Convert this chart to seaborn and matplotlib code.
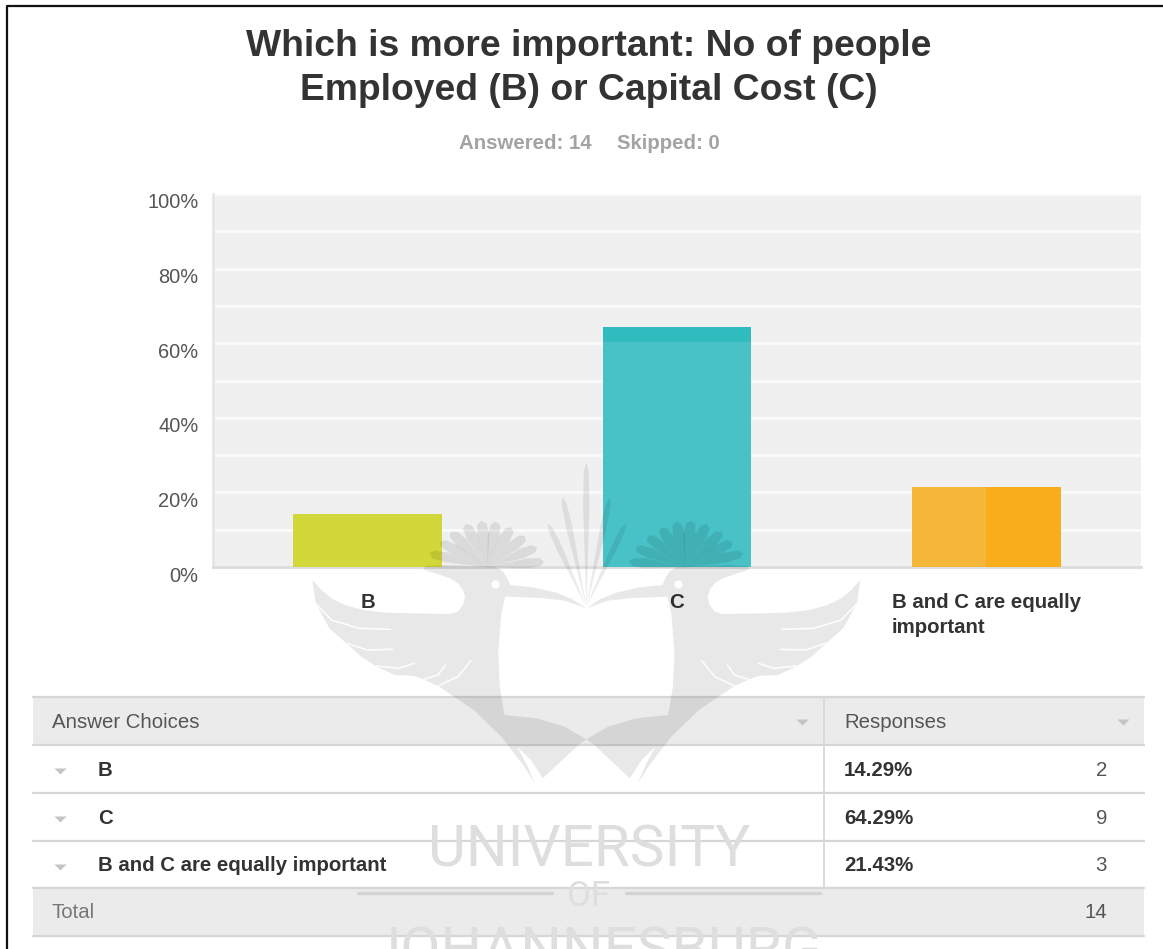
import numpy as np
import pandas as pd
import seaborn as sns
import matplotlib
matplotlib.use("Agg")
import matplotlib.pyplot as plt
from matplotlib.transforms import ScaledTranslation

title = "Which is more important: No of people\nEmployed (B) or Capital Cost (C)"
subtitle_answered = "Answered: 14"
subtitle_skipped = "Skipped: 0"
choices = ["B", "C", "B and C are equally\nimportant"]
table_choices = ["B", "C", "B and C are equally important"]
percents = [14.29, 64.29, 21.43]
counts = [2, 9, 3]
total = 14
bar_colors = ["#d3d83a", "#48c2c7", "#f6b63a"]
y_ticks = [0, 20, 40, 60, 80, 100]

W, H = 1163, 949
sns.set_theme(style="white")
plt.rcParams["font.family"] = ["Liberation Sans", "DejaVu Sans"]

fig = plt.figure(figsize=(W / 100, H / 100), dpi=100, facecolor="white")


def rect(l, t, r, b):
    return [l / W, 1 - b / H, (r - l) / W, (b - t) / H]


# ---- chart
ax = fig.add_axes(rect(213, 194, 1141, 567), facecolor="#f0f0f0")
df = pd.DataFrame({"choice": choices, "pct": percents})
sns.barplot(data=df, x="choice", y="pct", hue="choice", palette=bar_colors,
            width=0.48, saturation=1, legend=False, ax=ax, zorder=3, linewidth=0)
ax.set_xlim(-0.5, 2.5)
ax.set_ylim(0, 100)
ax.set_xlabel("")
ax.set_ylabel("")
ax.set_yticks(y_ticks)
ax.set_yticklabels([f"{v}%" for v in y_ticks], fontsize=14.4, color="#555555")
ax.set_yticks(range(0, 101, 10), minor=True)
ax.grid(True, which="both", axis="y", color="#fbfbfb", lw=2, zorder=1)
ax.set_axisbelow(True)
ax.tick_params(axis="y", which="both", length=0, pad=10.5)
ax.tick_params(axis="x", length=0, pad=19)
off = ScaledTranslation(0, -7 / 100, fig.dpi_scale_trans)
for lab in ax.get_yticklabels():
    lab.set_transform(lab.get_transform() + off)
for lab in ax.get_xticklabels():
    lab.set_fontsize(14.7)
    lab.set_fontweight("bold")
    lab.set_color("#333333")
    lab.set_multialignment("left")
    lab.set_linespacing(1.35)
for s in ["top", "right"]:
    ax.spines[s].set_visible(False)
ax.spines["left"].set_color("#e6e6e6")
ax.spines["left"].set_linewidth(2)
ax.spines["bottom"].set_color("#dcdcdc")
ax.spines["bottom"].set_linewidth(2)

# two-tone shading on bars
bars = list(ax.patches)
cb = bars[1]
ax.bar(cb.get_x() + cb.get_width() / 2, 4, bottom=cb.get_height() - 4,
       width=cb.get_width(), color="#30bbbf", zorder=4, linewidth=0)
ob = bars[2]
ax.bar(ob.get_x() + ob.get_width() * 0.75, ob.get_height(),
       width=ob.get_width() / 2, color="#f7ad1c", zorder=4, linewidth=0)

# ---- overlay in pixel coordinates
ov = fig.add_axes([0, 0, 1, 1], facecolor="none")
ov.set_xlim(0, W)
ov.set_ylim(H, 0)
ov.axis("off")

ov.plot([7, 7, W], [H, 6, 6], color="#111111", lw=1.6, zorder=1)

ov.text(589, 68.5, title, ha="center", va="center", fontsize=26.8,
        fontweight="bold", color="#333333", linespacing=1.3)
ov.text(525.5, 143.5, subtitle_answered, ha="center", va="center", fontsize=14.7,
        fontweight="bold", color="#a3a3a3")
ov.text(668, 143.5, subtitle_skipped, ha="center", va="center", fontsize=14.7,
        fontweight="bold", color="#a3a3a3")

# ---- table
L, R, SPLIT = 33, 1144, 824
rows_y = [697, 745, 793, 841, 888, 936]
for t, b in [(rows_y[0], rows_y[1]), (rows_y[4], rows_y[5])]:
    ov.fill_between([L, R], t, b, color="#ebebeb", lw=0, zorder=1)
for y in rows_y:
    ov.plot([L, R], [y, y], color="#d6d6d6", lw=1.6, zorder=2)
ov.plot([SPLIT, SPLIT], [rows_y[0], rows_y[4]], color="#d6d6d6", lw=1.2, zorder=2)

TXT = "#555555"
TRI = [(-1, 0.5), (1, 0.5), (0, -0.5), (-1, 0.5)]
ov.text(52, 722, "Answer Choices", va="center", fontsize=14.7, color=TXT)
ov.text(844, 722, "Responses", va="center", fontsize=14.7, color=TXT)
ov.scatter([802, 1123], [722, 722], marker=TRI, s=75, color="#c4c4c4", lw=0, zorder=3)
for i, name in enumerate(table_choices):
    yc = (rows_y[i + 1] + rows_y[i + 2]) / 2 + 1
    ov.scatter([60], [yc + 1], marker=TRI, s=75, color="#c4c4c4", lw=0, zorder=3)
    ov.text(98, yc, name, va="center", fontsize=14.7, fontweight="bold", color="#333333")
    ov.text(844, yc, f"{percents[i]:.2f}%", va="center", fontsize=14.7,
            fontweight="bold", color="#333333")
    ov.text(1107, yc, str(counts[i]), va="center", ha="right", fontsize=14.7, color=TXT)
ov.text(52, 912, "Total", va="center", fontsize=14.7, color="#777777")
ov.text(1107, 912, str(total), va="center", ha="right", fontsize=14.7, color=TXT)

# ---- watermark (decorative crest, traced in crop coordinates)
WM = "#000000"


def zx(x):
    return 280 + np.asarray(x, float) / 2.53


def zy(y):
    return 450 + np.asarray(y, float) / 3.0


def mirror(x):
    return 1550 - np.asarray(x, float)


body = np.array([
    (82, 390), (105, 420), (130, 445), (165, 465), (210, 480), (270, 488), (330, 490),
    (430, 492), (450, 485), (463, 465), (468, 440), (462, 418), (450, 400), (430, 385),
    (362, 358), (368, 348), (420, 345), (545, 350), (565, 365), (575, 385), (582, 405),
    (640, 412), (700, 428), (740, 448), (775, 475), (720, 452), (660, 444), (570, 440),
    (560, 490), (552, 610), (556, 710), (568, 795), (650, 805), (720, 830), (775, 868),
    (755, 885), (665, 985), (635, 930), (600, 890), (625, 945), (645, 1000), (615, 945),
    (560, 860), (490, 780), (400, 708), (362, 688), (340, 678), (290, 675), (245, 650),
    (205, 620), (170, 582), (125, 535), (90, 460)])
slits = [[(90, 460), (130, 510), (200, 535), (280, 538)],
         [(170, 580), (220, 600), (285, 598)],
         [(245, 648), (300, 655), (340, 640)],
         [(365, 688), (400, 675), (418, 645)],
         [(400, 708), (450, 680), (483, 632)]]
tips = [(378, 310), (405, 275), (432, 245), (470, 222), (510, 212), (547, 215),
        (585, 232), (620, 258), (650, 292), (668, 335)]
spikes = [(775, 35), (715, 140), (835, 140), (678, 220), (875, 220)]
crest_base = (525, 352)


def feather(base, tip, w):
    b, t = np.array(base, float), np.array(tip, float)
    d = t - b
    n = np.array([-d[1], d[0]]) / np.hypot(*d)
    pts = [b, b + 0.7 * d + n * w, b + 0.93 * d + n * w * 0.8, t,
           b + 0.93 * d - n * w * 0.8, b + 0.7 * d - n * w]
    return np.array(pts)


for side in [False, True]:
    fx = mirror if side else (lambda v: np.asarray(v, float))
    ov.fill(zx(fx(body[:, 0])), zy(body[:, 1]), color=WM, alpha=0.09, lw=0, zorder=6)
    for s in slits:
        s = np.array(s)
        ov.plot(zx(fx(s[:, 0])), zy(s[:, 1]), color="white", lw=1.2, alpha=0.9, zorder=7)
    for tip in tips:
        p = feather(crest_base, tip, 15)
        ov.fill(zx(fx(p[:, 0])), zy(p[:, 1]), color=WM, alpha=0.09, lw=0, zorder=6)
    ov.scatter(zx(fx([543])), zy([402]), s=34, color="white", lw=0, zorder=7)
for tip in spikes:
    p = feather((775, 470), tip, 8)
    ov.fill(zx(p[:, 0]), zy(p[:, 1]), color=WM, alpha=0.08, lw=0, zorder=6)

WMT = "#dedede"
WF = ["Roboto", "Liberation Sans"]
ov.text(589, 851, "UNIVERSITY", ha="center", va="center", fontsize=42,
        color=WMT, family=WF, zorder=6)
ov.text(589, 896, "OF", ha="center", va="center", fontsize=25,
        color=WMT, family=WF, zorder=6)
ov.plot([358, 552], [893, 893], color="#000000", alpha=0.1, lw=2.4, zorder=6)
ov.plot([626, 820], [893, 893], color="#000000", alpha=0.1, lw=2.4, zorder=6)
ov.text(595, 953, "JOHANNESBURG", ha="center", va="center", fontsize=42,
        color=WMT, family=WF, zorder=6, clip_on=True)

fig.savefig("out.png", dpi=100)
